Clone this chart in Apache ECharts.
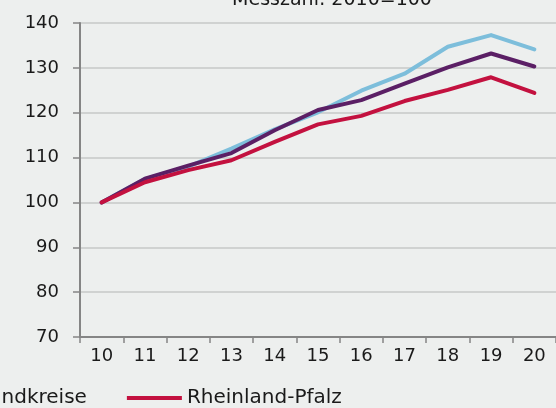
<!DOCTYPE html>
<html>
<head>
    <meta charset="utf-8">
    <title>Messzahl</title>
    <script src="https://cdn.jsdelivr.net/npm/echarts@6/dist/echarts.min.js"></script>
    <style>
        html, body { margin: 0; padding: 0; background: #edefee; }
    </style>
</head>
<body>
<div id="chart" style="width: 556px;height:408px;"></div>

<script>
    // Messzahl: 2010=100
    var years        = ['10', '11', '12', '13', '14', '15', '16', '17', '18', '19', '20'];
    var kreisfreie   = [100, 105.2, 108.0, 112.0, 116.3, 120.1, 124.9, 128.7, 134.7, 137.3, 134.1];
    var landkreise   = [100, 105.3, 108.2, 111.0, 116.1, 120.6, 122.8, 126.5, 130.1, 133.2, 130.3];
    var rlp          = [100, 104.5, 107.2, 109.4, 113.5, 117.4, 119.3, 122.6, 125.1, 127.9, 124.4];
    var seriesNames  = ['Kreisfreie Städte', 'Landkreise', 'Rheinland-Pfalz'];
    var seriesColors = ['#7dbedb', '#5b1f65', '#c3113f'];

    var font = 'DejaVu Sans';

    function line(name, data, color) {
        return {
            name: name,
            type: 'line',
            data: data,
            symbol: 'none',
            lineStyle: { color: color, width: 4, cap: 'round', join: 'round' },
            itemStyle: { color: color }
        };
    }

    var option = {
        backgroundColor: '#edefee',
        animation: false,
        title: {
            text: 'Messzahl: 2010=100',
            left: 327,
            textAlign: 'center',
            top: -14,
            textStyle: { fontFamily: font, fontWeight: 'normal', fontSize: 19, color: '#1a1a1a' }
        },
        legend: {
            data: seriesNames,
            left: -353,
            top: 383,
            itemWidth: 55,
            itemHeight: 4,
            itemGap: 40,
            icon: 'rect',
            textStyle: { fontFamily: font, fontSize: 20, color: '#1a1a1a' }
        },
        grid: { left: 80, right: 0, top: 23, bottom: 71, containLabel: false },
        xAxis: {
            type: 'category',
            data: years,
            boundaryGap: true,
            axisLine: { lineStyle: { color: '#858585', width: 2 } },
            axisTick: { show: true, length: 6, lineStyle: { color: '#858585', width: 1.5 } },
            axisLabel: { fontFamily: font, fontSize: 18, color: '#1a1a1a', margin: 10 }
        },
        yAxis: {
            type: 'value',
            min: 70,
            max: 140,
            interval: 10,
            axisLine: { show: true, lineStyle: { color: '#858585', width: 2 } },
            axisTick: { show: true, length: 7, lineStyle: { color: '#858585', width: 1.5 } },
            axisLabel: { fontFamily: font, fontSize: 18, color: '#1a1a1a', margin: 21 },
            splitLine: { lineStyle: { color: '#c6c8c7', width: 1.5 } }
        },
        series: [
            line(seriesNames[0], kreisfreie, seriesColors[0]),
            line(seriesNames[1], landkreise, seriesColors[1]),
            line(seriesNames[2], rlp, seriesColors[2])
        ]
    };

    echarts.init(document.getElementById('chart')).setOption(option);
</script>
</body>
</html>
